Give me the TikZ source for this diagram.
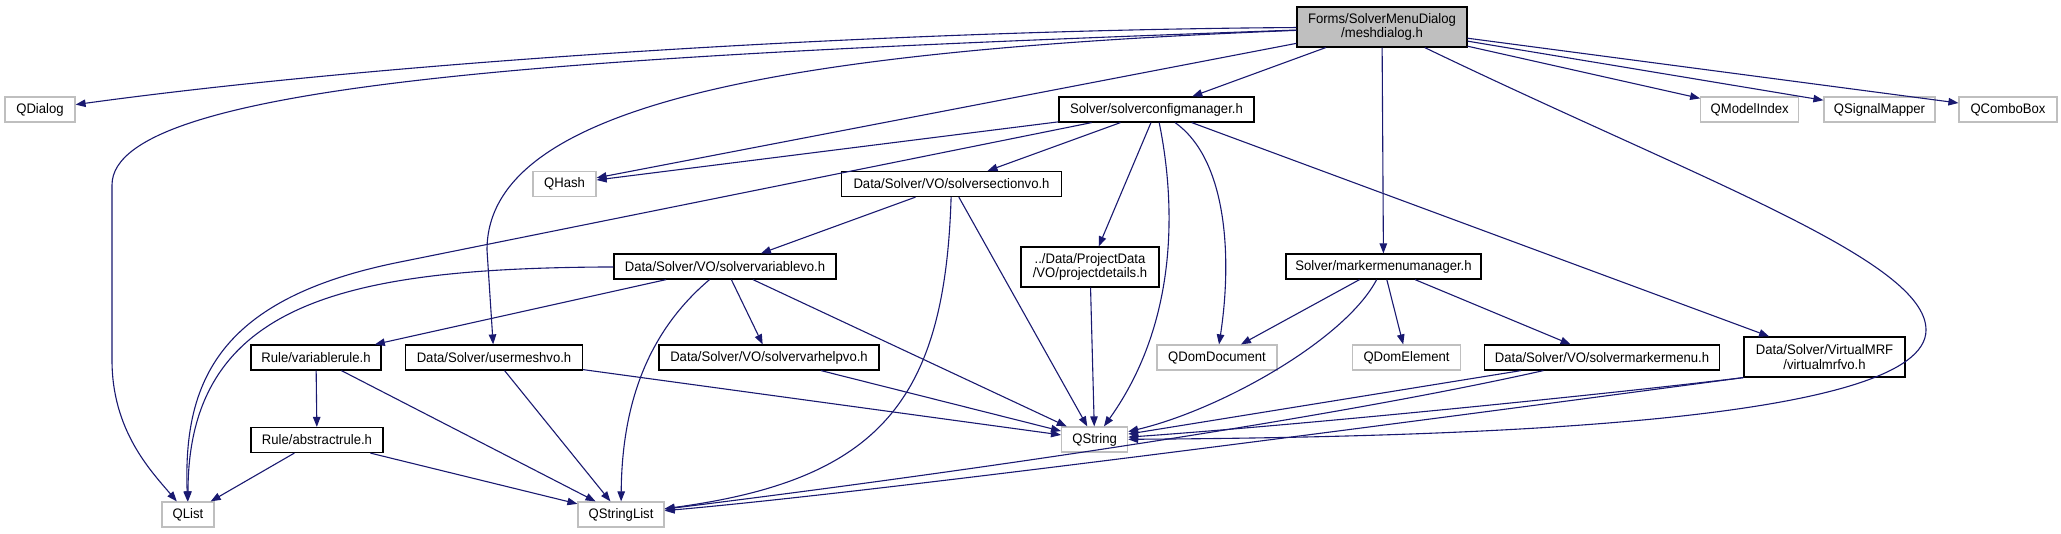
\documentclass[tikz,border=0pt]{standalone}
\usepackage{fontspec}
\setmainfont{Liberation Sans}[FakeStretch=0.95]
\usetikzlibrary{arrows.meta}
\definecolor{edgeblue}{RGB}{25,25,112}
\definecolor{boxgrey}{RGB}{191,191,191}
\begin{document}
\begin{tikzpicture}[x=1pt,y=-1pt,
  basebox/.style={inner sep=0pt, minimum height=25pt, align=center, fill=white,
    font=\fontsize{13.8}{14.8}\selectfont},
  doc/.style={basebox, draw=black, line width=1.2pt},
  ext/.style={basebox, draw=boxgrey, line width=1.2pt},
  edge/.style={draw=edgeblue, line width=1.1pt, -{Triangle[length=10pt,width=7.5pt]}}]
\useasboundingbox (0,0) rectangle (2061,533);
% nodes
\node[doc, minimum width=170pt, minimum height=40pt, fill=boxgrey] (mesh) at (1382,27) {Forms/SolverMenuDialog\\/meshdialog.h};
\node[ext, minimum width=70pt] (qdialog) at (40,109.5) {QDialog};
\node[doc, minimum width=195pt] (scm) at (1156.5,109.5) {Solver/solverconfigmanager.h};
\node[ext, minimum width=98pt] (qmodel) at (1749.7,109.5) {QModelIndex};
\node[ext, minimum width=111pt] (qsig) at (1879.5,109.5) {QSignalMapper};
\node[ext, minimum width=98pt] (qcombo) at (2008,109.5) {QComboBox};
\node[ext, minimum width=63pt] (qhash) at (564.5,184) {QHash};
\node[doc, minimum width=220pt] (ssec) at (951.5,184) {Data/Solver/VO/solversectionvo.h};
\node[doc, minimum width=138pt, minimum height=40pt] (proj) at (1090,267) {../Data/ProjectData\\/VO/projectdetails.h};
\node[doc, minimum width=222pt] (svar) at (725,266.5) {Data/Solver/VO/solvervariablevo.h};
\node[doc, minimum width=195pt] (mmm) at (1383.5,266.5) {Solver/markermenumanager.h};
\node[doc, minimum width=130pt] (vrule) at (316,357.5) {Rule/variablerule.h};
\node[doc, minimum width=177pt] (umesh) at (494,357.5) {Data/Solver/usermeshvo.h};
\node[doc, minimum width=220pt] (svh) at (769,357.5) {Data/Solver/VO/solvervarhelpvo.h};
\node[ext, minimum width=120pt] (qdomdoc) at (1217,357.5) {QDomDocument};
\node[ext, minimum width=108pt] (qdomel) at (1406.5,357.5) {QDomElement};
\node[doc, minimum width=235pt] (smm) at (1602,357.5) {Data/Solver/VO/solvermarkermenu.h};
\node[doc, minimum width=161pt, minimum height=40pt] (vmrf) at (1824.5,357) {Data/Solver/VirtualMRF\\/virtualmrfvo.h};
\node[doc, minimum width=132pt] (arule) at (317,440) {Rule/abstractrule.h};
\node[ext, minimum width=66pt] (qstring) at (1094.6,439.5) {QString};
\node[ext, minimum width=52pt] (qlist) at (188,514.5) {QList};
\node[ext, minimum width=86pt] (qsl) at (621,514.5) {QStringList};
% edges from meshdialog
\draw[edge] (mesh) .. controls (900,30) and (400,60) .. (qdialog);
\draw[edge] (mesh) .. controls (600,55) and (112,80) .. (112,185) -- (112,360) .. controls (112,430) and (150,470) .. (qlist);
\draw[edge] (mesh) -- (qhash);
\draw[edge] (mesh) .. controls (800,50) and (487,100) .. (487,250) -- (umesh);
\draw[edge] (mesh) -- (scm);
\draw[edge] (mesh) -- (qmodel);
\draw[edge] (mesh) -- (qsig);
\draw[edge] (mesh) -- (qcombo);
\draw[edge] (mesh) -- (mmm);
\draw[edge] (mesh) .. controls (1700,180) and (1926,260) .. (1926,330) .. controls (1926,420) and (1500,437) .. (qstring);
% solverconfigmanager
\draw[edge] (scm) -- (qhash);
\draw[edge] (scm) -- (400,262) .. controls (220,298) and (183,380) .. (qlist);
\draw[edge] (scm) -- (ssec);
\draw[edge] (scm) -- (proj);
\draw[edge] (scm) .. controls (1175,200) and (1180,320) .. (qstring);
\draw[edge] (scm) .. controls (1228,160) and (1232,260) .. (qdomdoc);
\draw[edge] (scm) -- (vmrf);
% solversectionvo
\draw[edge] (ssec) -- (svar);
\draw[edge] (ssec) -- (qstring);
\draw[edge] (ssec) .. controls (945,400) and (880,480) .. (qsl);
% solvervariablevo
\draw[edge] (svar) .. controls (350,268) and (188,300) .. (qlist);
\draw[edge] (svar) -- (vrule);
\draw[edge] (svar) .. controls (650,330) and (622,400) .. (qsl);
\draw[edge] (svar) -- (svh);
\draw[edge] (svar) -- (qstring);
% rules
\draw[edge] (vrule) -- (arule);
\draw[edge] (vrule) -- (qsl);
\draw[edge] (arule) -- (qlist);
\draw[edge] (arule) -- (qsl);
% usermeshvo, varhelp, projectdetails
\draw[edge] (umesh) -- (qstring);
\draw[edge] (umesh) -- (qsl);
\draw[edge] (svh) -- (qstring);
\draw[edge] (proj) -- (qstring);
% markermenumanager
\draw[edge] (mmm) -- (qdomdoc);
\draw[edge] (mmm) -- (qdomel);
\draw[edge] (mmm) -- (smm);
\draw[edge] (mmm) .. controls (1345,340) and (1220,410) .. (qstring);
% solvermarkermenu
\draw[edge] (smm) -- (qstring);
\draw[edge] (smm) .. controls (1300,425) and (900,480) .. (qsl);
% virtualmrfvo
\draw[edge] (vmrf.south west) .. controls (1600,395) and (1300,425) .. (qstring);
\draw[edge] (vmrf.south west) .. controls (1500,410) and (900,490) .. (qsl);
\end{tikzpicture}
\end{document}
